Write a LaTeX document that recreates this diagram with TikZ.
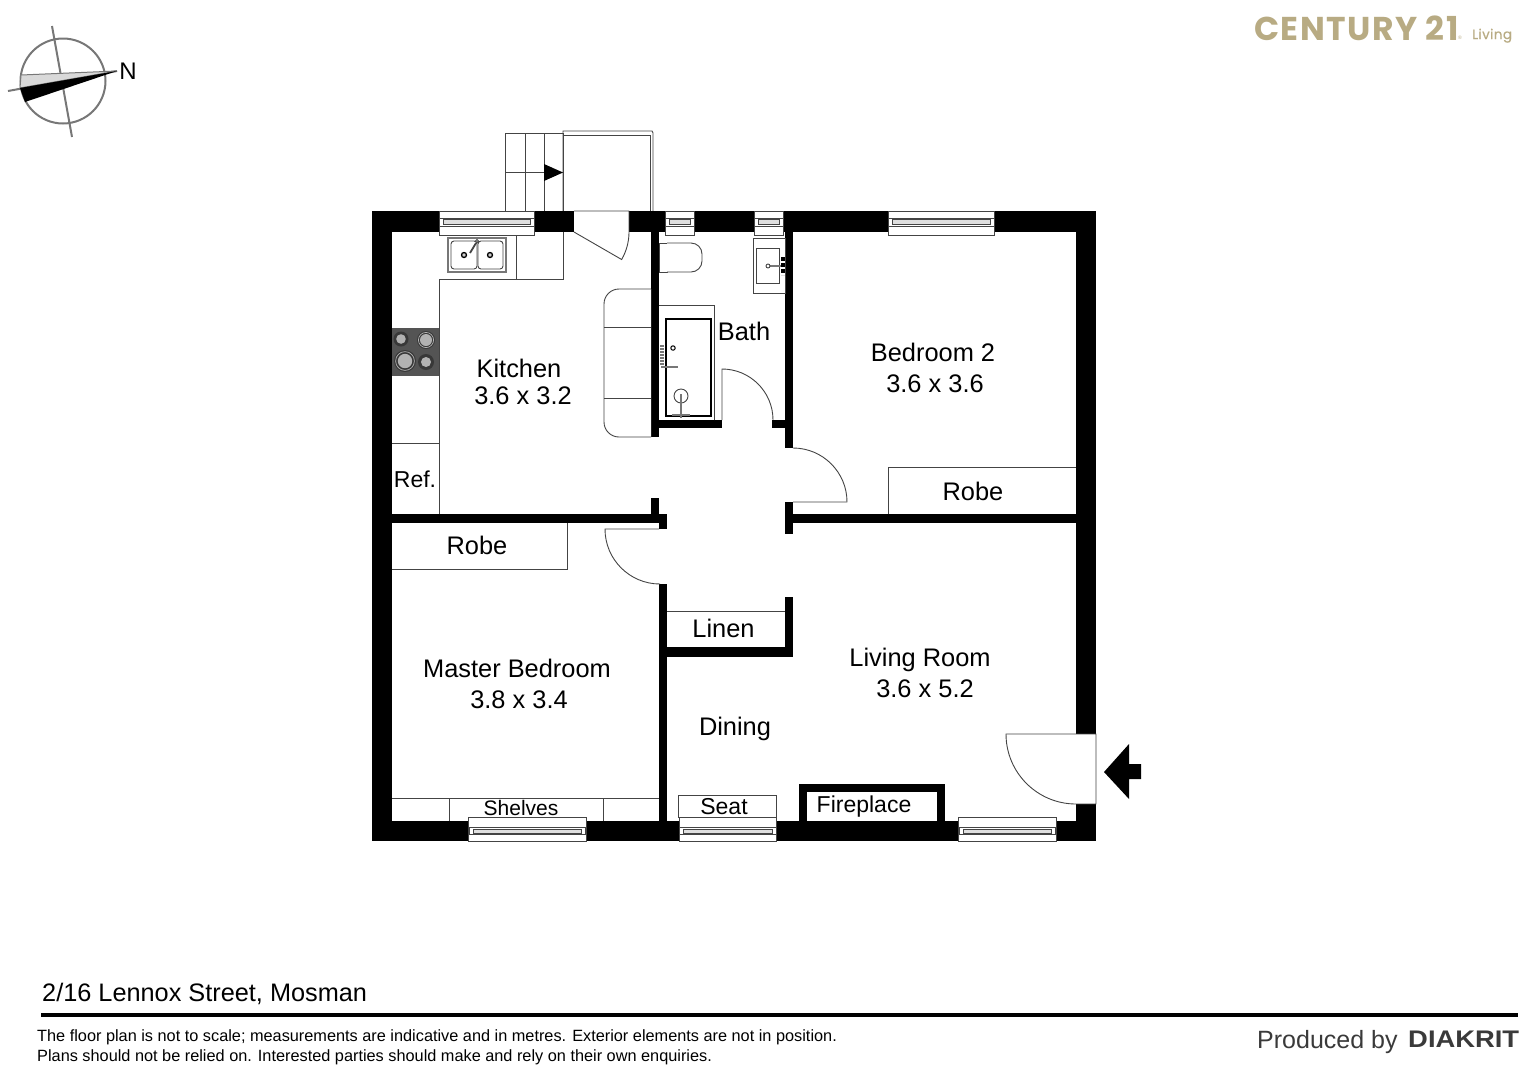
\documentclass[tikz,border=0pt]{standalone}
\usepackage{fontspec}
\setmainfont{Liberation Sans}
\newfontfamily\logofont[LetterSpace=4.5]{Poppins}
\newfontfamily\smalllogofont[LetterSpace=3,FakeBold=0.5]{Poppins}
\definecolor{linegray}{HTML}{444444}
\definecolor{compassgray}{HTML}{777777}
\definecolor{logotan}{HTML}{B8AB83}
\definecolor{textgray}{HTML}{3A3A3A}
\begin{document}
\begin{tikzpicture}[
    x=1pt, y=-1pt,
    wall/.style={fill=black, draw=none},
    fixture/.style={draw=linegray, line width=0.9pt, fill=white},
    thin line/.style={draw=linegray, line width=0.9pt},
    pane/.style={draw=linegray, line width=0.9pt, fill=gray!25},
    bathline/.style={draw=black, line width=1.6pt, fill=white},
    burner/.style={draw=none, fill=black!78},
    burnertop/.style={draw=none, fill=gray!60},
    compass/.style={draw=compassgray, line width=2pt},
    roomlabel/.style={anchor=base, inner sep=0pt, font=\fontsize{25.4}{30}\selectfont},
    smalllabel/.style={anchor=base, inner sep=0pt, font=\fontsize{23}{28}\selectfont},
    footlabel/.style={anchor=base west, inner sep=0pt, font=\fontsize{16.3}{18}\selectfont}
]
\useasboundingbox (0,0) rectangle (1528,1080);

% stairs and landing
\draw[thin line] (505,133) rectangle (563,211);
\draw[thin line] (525,133) -- (525,211);
\draw[thin line] (544,133) -- (544,211);
\draw[thin line] (505,172) -- (563,172);
\fill[black] (544,164) -- (563,172.5) -- (544,181) -- cycle;
\draw[thin line] (563,211) -- (563,131) -- (652,131) -- (653,133) -- (653,211);
\draw[thin line] (563,135) -- (650,135) -- (650,211);

% outer walls
\fill[wall] (372,211) rectangle (439,232);
\fill[wall] (534,211) rectangle (574,232);
\fill[wall] (629,211) rectangle (665,232);
\fill[wall] (693,211) rectangle (754,232);
\fill[wall] (782,211) rectangle (888,232);
\fill[wall] (994,211) rectangle (1096,232);
\fill[wall] (372,211) rectangle (392,841);
\fill[wall] (1076,211) rectangle (1096,734);
\fill[wall] (1076,804) rectangle (1096,841);
\fill[wall] (372,821) rectangle (1096,841);

% inner walls
\fill[wall] (651,232) rectangle (659,437);
\fill[wall] (659,420) rectangle (722,428);
\fill[wall] (772,420) rectangle (785,428);
\fill[wall] (785,232) rectangle (793,448);
\fill[wall] (785,502) rectangle (793,534);
\fill[wall] (793,514) rectangle (1076,523);
\fill[wall] (392,514) rectangle (667,523);
\fill[wall] (651,498) rectangle (659,514);
\fill[wall] (659,514) rectangle (667,529);
\fill[wall] (659,584) rectangle (667,821);
\fill[wall] (785,597) rectangle (793,657);
\fill[wall] (667,647) rectangle (785,657);
\fill[wall] (799,784) rectangle (945,821);
\fill[white] (807,792) rectangle (937,821);

% kitchen joinery
\draw[thin line] (439,279) -- (439,514);
\draw[thin line] (439,279) -- (563,279) -- (563,232);
\draw[thin line] (516,235) -- (516,279);
\draw[thin line] (392,443) -- (439,443);
\draw[fixture, line width=1.8pt, draw=compassgray] (448,238) rectangle (506,272);
\draw[fixture, rounded corners=3pt] (451,241) rectangle (477,269);
\draw[fixture, rounded corners=3pt] (478,241) rectangle (503,269);
\draw[draw=black, line width=1.3pt, fill=gray!40] (464,255) circle (2.5);
\draw[draw=black, line width=1.3pt, fill=gray!40] (490,255) circle (2.5);
\draw[draw=linegray, line width=1.8pt] (470,253) -- (476,243);
\draw[draw=linegray, line width=0.9pt, fill=white] (477,241) circle (1.6);
\fill[black!67] (392,328) rectangle (439,376);
\fill[burner] (401,339) circle (7.5);
\fill[burnertop] (401,339) circle (4.8);
\fill[burner] (426,340) circle (9);
\draw[draw=gray!60, line width=0.7pt] (426,340) circle (7.6);
\fill[burnertop] (426,340) circle (6);
\fill[burner] (405,361) circle (11);
\draw[draw=gray!60, line width=0.7pt] (405,361) circle (9.4);
\fill[burnertop] (405,361) circle (7.2);
\fill[burner] (426,362) circle (8);
\fill[burnertop] (426,362) circle (5);
\draw[fixture, rounded corners=15pt] (651,289) -- (604,289) -- (604,437) -- (651,437);
\draw[thin line] (604,327) -- (651,327);
\draw[thin line] (604,398) -- (651,398);

% bathroom
\draw[fixture] (659,243) rectangle (667,272);
\draw[fixture, rounded corners=11pt] (667,243) -- (702,243) -- (702,272) -- (667,272);
\draw[fixture] (753,238) rectangle (785,293);
\draw[fixture] (756,248) rectangle (779,283);
\draw[draw=black, line width=4pt, dash pattern=on 4pt off 2pt] (783,257) -- (783,275);
\draw[draw=compassgray, line width=1.6pt] (768,266) -- (781,266);
\draw[fixture] (768,266) circle (2);
\draw[fixture] (659,305) -- (714,305) -- (714,420);
\draw[bathline] (666,319) rectangle (711,416);
\draw[draw=black, line width=1pt] (673,348) circle (2.2);
\draw[draw=compassgray, line width=4pt, dash pattern=on 2pt off 1pt] (662,345) -- (662,366);
\draw[draw=compassgray, line width=1.6pt] (661,367) -- (678,367);
\draw[draw=linegray, line width=0.9pt] (681,396) circle (7);
\draw[draw=compassgray, line width=1.8pt] (681,394) -- (681,418);
\draw[draw=compassgray, line width=1.6pt] (672,415) -- (690,415);

% doors
\draw[thin line] (574,211) -- (629,211) -- (629,232) arc[start angle=0, end angle=30, radius=55] -- (574,232);
\draw[thin line] (722,420) -- (722,369) arc[start angle=-90, end angle=0, radius=51];
\draw[thin line] (793,448) arc[start angle=-90, end angle=0, radius=54] -- (793,502);
\draw[thin line] (659,529) -- (605,529) arc[start angle=180, end angle=90, radius=55];
\draw[thin line] (1096,734) -- (1006,734) arc[start angle=180, end angle=90, radius=70] -- (1096,804) -- cycle;

% joinery in rooms
\draw[thin line] (888,514) -- (888,467) -- (1076,467);
\draw[thin line] (392,569) -- (567,569) -- (567,523);
\draw[thin line] (667,611) -- (785,611);
\draw[thin line] (392,798) -- (659,798);
\draw[thin line] (449,798) -- (449,821);
\draw[thin line] (603,798) -- (603,821);
\draw[fixture] (678,795) rectangle (776,817);

% windows
\draw[fixture] (439,211) rectangle (534,235);
\draw[thin line] (439,218) rectangle (534,226);
\draw[pane] (443,219.5) rectangle (530,224);
\draw[fixture] (665,211) rectangle (694,235);
\draw[thin line] (665,218) rectangle (694,226);
\draw[pane] (669,219.5) rectangle (690,224);
\draw[fixture] (754,211) rectangle (783,235);
\draw[thin line] (754,218) rectangle (783,226);
\draw[pane] (758,219.5) rectangle (779,224);
\draw[fixture] (888,211) rectangle (994,235);
\draw[thin line] (888,218) rectangle (994,226);
\draw[pane] (892,219.5) rectangle (990,224);
\draw[fixture] (468,817) rectangle (586,841);
\draw[thin line] (469,827) rectangle (585,834.5);
\draw[pane] (473,829) rectangle (581,833);
\draw[fixture] (679,817) rectangle (776,841);
\draw[thin line] (679,827) rectangle (776,834.5);
\draw[pane] (683,829) rectangle (772,833);
\draw[fixture] (958,817) rectangle (1056,841);
\draw[thin line] (959,827) rectangle (1055,834.5);
\draw[pane] (963,829) rectangle (1051,833);

% entry arrow
\fill[black] (1104,772) -- (1129,744) -- (1129,764) -- (1141,764) -- (1141,779) -- (1129,779) -- (1129,799) -- cycle;

% compass
\draw[compass] (63,81) circle (42.5);
\draw[compass] (52,26) -- (72,137);
\draw[compass] (8,91) -- (117,71);
\draw[draw=compassgray, line width=1pt, fill=gray!30] (21,75) -- (117,71) -- (20,88) -- cycle;
\fill[black] (20,88) -- (117,71) -- (25,102) -- cycle;
\node[inner sep=0pt, anchor=base, font=\fontsize{24}{28}\selectfont] (north) at (128,79) {N};

% logo
\node[inner sep=0pt, anchor=base west, text=logotan, font=\logofont\bfseries\fontsize{33}{40}\selectfont] (logo) at (1254,40) {CENTURY 21};
\node[inner sep=0pt, anchor=base west, text=logotan, font=\fontsize{5}{6}\selectfont] (logomark) at (1458,39) {®};
\node[inner sep=0pt, anchor=base west, text=logotan, font=\smalllogofont\fontsize{13.5}{16}\selectfont] (logosub) at (1472,39) {Living};

% room labels
\node[roomlabel] (kitchen) at (519,377) {Kitchen};
\node[roomlabel] (kitchensize) at (523,404) {3.6 x 3.2};
\node[roomlabel] (bath) at (744,340) {Bath};
\node[roomlabel] (bedroom) at (933,361) {Bedroom 2};
\node[roomlabel] (bedroomsize) at (935,392) {3.6 x 3.6};
\node[roomlabel] (roberight) at (973,500) {Robe};
\node[roomlabel] (robeleft) at (477,554) {Robe};
\node[smalllabel] (ref) at (415,487) {Ref.};
\node[roomlabel] (linen) at (723.5,637) {Linen};
\node[roomlabel] (master) at (517,677) {Master Bedroom};
\node[roomlabel] (mastersize) at (519,708) {3.8 x 3.4};
\node[roomlabel] (living) at (920,666) {Living Room};
\node[roomlabel] (livingsize) at (925,697) {3.6 x 5.2};
\node[roomlabel] (dining) at (735,735) {Dining};
\node[smalllabel] (seat) at (724,814) {Seat};
\node[smalllabel] (fireplace) at (864,812) {Fireplace};
\node[smalllabel, font=\fontsize{21}{26}\selectfont] (shelves) at (521,815) {Shelves};

% footer
\node[footlabel, font=\fontsize{25.3}{30}\selectfont] (address) at (42,1001) {2/16 Lennox Street, Mosman};
\path[fill=black] (41,1013) rectangle (1518,1017);
\node[footlabel] (noteone) at (37,1041) {The floor plan is not to scale; measurements are indicative and in metres. Exterior elements are not in position.};
\node[footlabel] (notetwo) at (37,1061) {Plans should not be relied on. Interested parties should make and rely on their own enquiries.};
\node[footlabel, text=textgray, font=\fontsize{25}{32}\selectfont] (produced) at (1257,1048) {Produced by};
\node[footlabel, text=textgray, font=\bfseries\fontsize{24}{32}\selectfont, xscale=1.14] (diakrit) at (1408,1047) {DIAKRIT};
\end{tikzpicture}
\end{document}
